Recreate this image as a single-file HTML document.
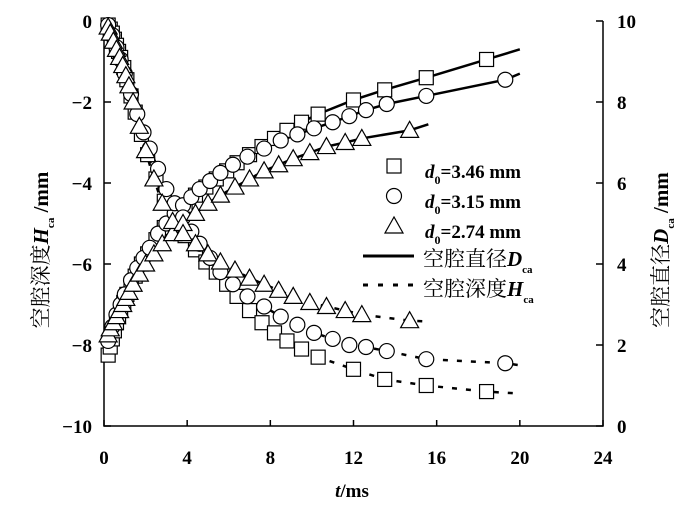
<!DOCTYPE html>
<html><head><meta charset="utf-8"><style>
body{margin:0;background:#fff}
svg text{font-family:"Liberation Serif","Noto Serif CJK SC",serif;fill:#000}
</style></head><body>
<svg id="c" width="700" height="512" xmlns="http://www.w3.org/2000/svg"></svg>
<script>
const xTicks=[0,4,8,12,16,20,24];
const yLeftTicks=[0,-2,-4,-6,-8,-10];
const yRightTicks=[0,2,4,6,8,10];
// square d0=3.46
const sqT=[0.2,0.3,0.4,0.5,0.6,0.7,0.8,0.95,1.1,1.3,1.5,1.8,2.1,2.5,2.9,3.4,3.9,4.4,4.9,5.4,5.9,6.4,7.0,7.6,8.2,8.8,9.5,10.3,12.0,13.5,15.5,18.4];
const sqD=[1.75,1.95,2.15,2.35,2.55,2.7,2.85,3.05,3.25,3.5,3.7,4.0,4.25,4.6,4.9,5.2,5.45,5.7,5.9,6.1,6.3,6.5,6.7,6.9,7.1,7.3,7.5,7.7,8.05,8.3,8.6,9.05];
const sqH=[-0.1,-0.2,-0.3,-0.45,-0.6,-0.75,-0.9,-1.15,-1.45,-1.85,-2.25,-2.8,-3.3,-3.9,-4.45,-4.95,-5.3,-5.65,-5.95,-6.2,-6.5,-6.8,-7.15,-7.45,-7.7,-7.9,-8.1,-8.3,-8.6,-8.85,-9.0,-9.15];
const sqFitEnd=[20,9.3,-9.2];
// circle d0=3.15
const ciT=[0.2,0.4,0.6,0.8,1.0,1.3,1.6,1.9,2.2,2.6,3.0,3.4,3.8,4.2,4.6,5.1,5.6,6.2,6.9,7.7,8.5,9.3,10.1,11.0,11.8,12.6,13.6,15.5,19.3];
const ciD=[2.1,2.45,2.75,3.0,3.25,3.6,3.9,4.15,4.4,4.75,5.0,5.25,5.45,5.65,5.85,6.05,6.25,6.45,6.65,6.85,7.05,7.2,7.35,7.5,7.65,7.8,7.95,8.15,8.55];
const ciH=[-0.1,-0.35,-0.65,-0.95,-1.3,-1.8,-2.3,-2.75,-3.15,-3.65,-4.15,-4.5,-4.85,-5.2,-5.5,-5.85,-6.2,-6.5,-6.8,-7.05,-7.3,-7.5,-7.7,-7.85,-8.0,-8.05,-8.15,-8.35,-8.45];
const ciFitEnd=[20,8.7,-8.5];
// triangle d0=2.74
const trT=[0.2,0.3,0.45,0.6,0.75,0.9,1.05,1.2,1.4,1.7,2.0,2.4,2.8,3.3,3.8,4.4,5.0,5.6,6.3,7.0,7.7,8.4,9.1,9.9,10.7,11.6,12.4,14.7];
const trD=[2.25,2.4,2.55,2.7,2.85,3.0,3.15,3.3,3.5,3.75,4.0,4.25,4.5,4.75,5.0,5.25,5.5,5.7,5.9,6.1,6.3,6.45,6.6,6.75,6.9,7.0,7.1,7.3];
const trH=[-0.15,-0.3,-0.5,-0.7,-0.9,-1.1,-1.35,-1.6,-2.0,-2.6,-3.2,-3.9,-4.5,-4.95,-5.25,-5.5,-5.75,-5.95,-6.15,-6.35,-6.5,-6.65,-6.8,-6.95,-7.05,-7.15,-7.25,-7.4];
const trFitEnd=[15.6,7.45,-7.42];

const X0=104,X1=603,YT=21,YB=426;
const sx=t=>X0+(t-0)/24*(X1-X0);
const syL=h=>YT+(0-h)/10*(YB-YT);
const syR=d=>YB-d/10*(YB-YT);
const svg=document.getElementById('c');
const NS='http://www.w3.org/2000/svg';
function mk(tag,at,parent){const e=document.createElementNS(NS,tag);for(const k in at)e.setAttribute(k,at[k]);(parent||svg).appendChild(e);return e;}
function txt(s,x,y,anchor,size,parent){const e=mk('text',{x:x,y:y,'text-anchor':anchor,'font-size':size,'font-weight':'bold'},parent);e.textContent=s;return e;}

let ax=mk('path',{d:`M${X0},${YT}V${YB}H${X1}V${YT}`,fill:'none',stroke:'#000','stroke-width':1.5});


xTicks.forEach(t=>{let l=mk('line',{x1:sx(t),x2:sx(t),y1:YB,y2:YB-6,stroke:'#000','stroke-width':1.5});

let e=txt(String(t),sx(t),YB+38,'middle',19);});
yLeftTicks.forEach(v=>{let l=mk('line',{x1:X0,x2:X0+7,y1:syL(v),y2:syL(v),stroke:'#000','stroke-width':1.5});

let e=txt(String(v).replace('-','−'),X0-12,syL(v)+7,'end',19);});
yRightTicks.forEach(v=>{let l=mk('line',{x1:X1,x2:X1-7,y1:syR(v),y2:syR(v),stroke:'#000','stroke-width':1.5});

let e=txt(String(v),X1+14,syR(v)+7,'start',19);});

function line(T,V,end,sy,dash,name){let pts=T.map((t,i)=>sx(t)+','+sy(V[i]));pts.push(sx(end[0])+','+sy(end[1]));
let p=mk('polyline',{points:pts.join(' '),fill:'none',stroke:'#000','stroke-width':2.5,'stroke-dasharray':dash?'5,9':'none'});
}
function marker(kind,x,y,name,parent){let e;
if(kind==='sq')e=mk('rect',{x:x-7,y:y-7,width:14,height:14,fill:'#fff',stroke:'#000','stroke-width':1.2},parent);
else if(kind==='ci')e=mk('circle',{cx:x,cy:y,r:7.5,fill:'#fff',stroke:'#000','stroke-width':1.2},parent);
else e=mk('polygon',{points:`${x},${y-9} ${x-9},${y+7} ${x+9},${y+7}`,fill:'#fff',stroke:'#000','stroke-width':1.2},parent);
}

const series=[['sq',sqT,sqD,sqH,sqFitEnd,'d346'],['ci',ciT,ciD,ciH,ciFitEnd,'d315'],['tr',trT,trD,trH,trFitEnd,'d274']];
series.forEach(s=>{line(s[1],s[2],[s[4][0],s[4][1]],syR,false,'diameter-fit-'+s[5]);line(s[1],s[3],[s[4][0],s[4][2]],syL,true,'depth-fit-'+s[5]);});
series.forEach(s=>{s[1].forEach((t,i)=>{marker(s[0],sx(t),syR(s[2][i]),'diameter-point-'+s[5]);marker(s[0],sx(t),syL(s[3][i]),'depth-point-'+s[5]);});});

const lg=mk('g',{});
const labs=['3.46 mm','3.15 mm','2.74 mm'];
['sq','ci','tr'].forEach((k,i)=>{let y=166+i*30;marker(k,394,y,'legend-marker',lg);
let t=mk('text',{x:425,y:y+12,'font-size':19,'font-weight':'bold'},lg);
t.innerHTML='<tspan font-style="italic">d</tspan><tspan font-size="12" dy="6">0</tspan><tspan dy="-6">='+labs[i]+'</tspan>';
});
let l1=mk('line',{x1:363,x2:414,y1:256,y2:256,stroke:'#000','stroke-width':3},lg);
let l2=mk('line',{x1:363,x2:414,y1:285,y2:285,stroke:'#000','stroke-width':3,'stroke-dasharray':'5,10'},lg);
let t1=mk('text',{x:423,y:266,'font-size':21},lg);t1.innerHTML='空腔直径<tspan font-style="italic" font-weight="bold">D</tspan><tspan font-size="11" font-weight="bold" dy="7">ca</tspan>';

let t2=mk('text',{x:423,y:296,'font-size':21},lg);t2.innerHTML='空腔深度<tspan font-style="italic" font-weight="bold">H</tspan><tspan font-size="11" font-weight="bold" dy="7">ca</tspan>';


let xt=mk('text',{x:352,y:497,'text-anchor':'middle','font-size':19,'font-weight':'bold'});
xt.innerHTML='<tspan font-style="italic">t</tspan>/ms';
let yl=mk('text',{x:0,y:0,'text-anchor':'middle','font-size':21,transform:'translate(48,250) rotate(-90)'});
yl.innerHTML='空腔深度<tspan font-style="italic" font-weight="bold">H</tspan><tspan font-size="11" font-weight="bold" dy="6">ca</tspan><tspan dy="-6" font-weight="bold"> /mm</tspan>';

let yr=mk('text',{x:0,y:0,'text-anchor':'middle','font-size':21,transform:'translate(668,250) rotate(-90)'});
yr.innerHTML='空腔直径<tspan font-style="italic" font-weight="bold">D</tspan><tspan font-size="11" font-weight="bold" dy="6">ca</tspan><tspan dy="-6" font-weight="bold"> /mm</tspan>';

</script>
</body></html>
